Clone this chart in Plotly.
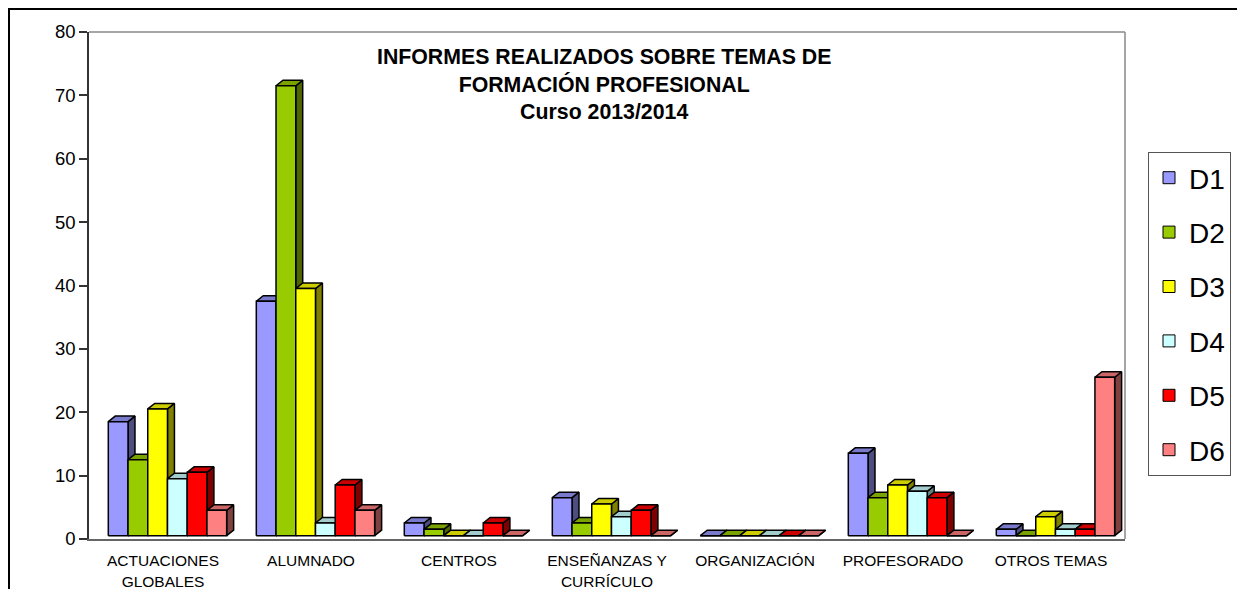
import plotly.graph_objects as go

categories = ["ACTUACIONES<br>GLOBALES", "ALUMNADO", "CENTROS", "ENSEÑANZAS Y<br>CURRÍCULO",
              "ORGANIZACIÓN", "PROFESORADO", "OTROS TEMAS"]
series_names = ["D1", "D2", "D3", "D4", "D5", "D6"]
D1 = [18, 37, 2, 6, 0, 13, 1]
D2 = [12, 71, 1, 2, 0, 6, 0]
D3 = [20, 39, 0, 5, 0, 8, 3]
D4 = [9, 2, 0, 3, 0, 7, 1]
D5 = [10, 8, 2, 4, 0, 6, 1]
D6 = [4, 4, 0, 0, 0, 0, 25]
series_values = [D1, D2, D3, D4, D5, D6]

front_colors = ["#9999FF", "#99CC00", "#FFFF00", "#CCFFFF", "#FF0000", "#FF8080"]
top_colors = ["#7A7ACC", "#7AA300", "#CCCC00", "#A3CCCC", "#CC0000", "#CC6666"]
side_colors = ["#4D4D80", "#4D6600", "#808000", "#668080", "#800000", "#804040"]

FONT = "Arial, Liberation Sans, sans-serif"

# 3D geometry (in axis units)
GROUP_OFFSET = 0.1304
BAR_W = 0.1333
DX = 0.047
DY = 0.87
FLOOR = 0.52

W, H = 1237, 581
ML, MR, MT, MB = 81, 120, 24, 50
PW = W - ML - MR
PH = H - MT - MB

fig = go.Figure()

def poly_trace(xs, ys, fill):
    return go.Scatter(x=xs, y=ys, mode="lines", fill="toself", fillcolor=fill,
                      line=dict(color="black", width=1.5), hoverinfo="skip",
                      showlegend=False)

# sides and tops, in series order
for i, vals in enumerate(series_values):
    sx, sy, tx, ty = [], [], [], []
    for c, v in enumerate(vals):
        L = c + GROUP_OFFSET + i * BAR_W
        R = L + BAR_W
        top = FLOOR + v
        sx += [R, R + DX, R + DX, R, R, None]
        sy += [FLOOR, FLOOR + DY, top + DY, top, FLOOR, None]
        tx += [L, R, R + DX, L + DX, L, None]
        ty += [top, top, top + DY, top + DY, top, None]
    fig.add_trace(poly_trace(sx, sy, side_colors[i]))
    fig.add_trace(poly_trace(tx, ty, top_colors[i]))

# front faces
for i, vals in enumerate(series_values):
    fx, fy = [], []
    for c, v in enumerate(vals):
        L = c + GROUP_OFFSET + i * BAR_W
        R = L + BAR_W
        top = FLOOR + v
        fx += [L, R, R, L, L, None]
        fy += [FLOOR, FLOOR, top, top, FLOOR, None]
    fig.add_trace(poly_trace(fx, fy, front_colors[i]))

# legend entries
for i, name in enumerate(series_names):
    fig.add_trace(go.Bar(x=[None], y=[None], name=name, legendgroup=name,
                         marker=dict(color=front_colors[i], line=dict(color="black", width=1))))

def px_x(x):
    return (x - ML) / PW

def px_y(y):
    return (H - MB - y) / PH

fig.update_layout(
    width=W, height=H,
    margin=dict(l=ML, r=MR, t=MT, b=MB),
    paper_bgcolor="white", plot_bgcolor="white",
    font=dict(family=FONT, color="black"),
    showlegend=True,
    legend=dict(x=px_x(1140), xanchor="left", y=px_y(144), yanchor="top",
                font=dict(size=28, family=FONT, color="black"),
                bordercolor="#555555", borderwidth=1, bgcolor="white",
                tracegroupgap=15),
    xaxis=dict(range=[0, 7], tickmode="array", tickvals=[c + 0.5 for c in range(len(categories))],
               ticktext=categories, ticks="outside", ticklen=7, tickcolor="rgba(0,0,0,0)",
               showline=True, linecolor="#666666", linewidth=1.5, showgrid=False, zeroline=False,
               tickfont=dict(size=15.5, family=FONT, color="black"), automargin=False),
    xaxis2=dict(range=[0, 7], overlaying="x", anchor="y", side="bottom", tickmode="array",
                tickvals=list(range(len(categories) + 1)), ticktext=[""] * (len(categories) + 1),
                ticks="outside", ticklen=8, tickcolor="#666666", tickwidth=1.5,
                showline=False, showgrid=False, zeroline=False, automargin=False),
    yaxis=dict(range=[0, 80], dtick=10, ticks="outside", ticklen=8, tickcolor="#333333",
               tickwidth=1.5, showline=True, linecolor="#333333", linewidth=1.5,
               showgrid=False, zeroline=False,
               tickfont=dict(size=18.5, family=FONT, color="black"), automargin=False),
    shapes=[
        dict(type="line", xref="paper", yref="paper", x0=0, x1=1, y0=1, y1=1,
             line=dict(color="#888888", width=1.5)),
        dict(type="line", xref="paper", yref="paper", x0=1, x1=1, y0=0, y1=1,
             line=dict(color="#888888", width=1.5)),
        dict(type="rect", xref="paper", yref="paper", x0=px_x(1), x1=px_x(1232),
             y0=px_y(620), y1=px_y(1),
             line=dict(color="black", width=2)),
    ],
    annotations=[
        dict(text="<b>INFORMES REALIZADOS SOBRE TEMAS DE<br>FORMACIÓN PROFESIONAL<br>Curso 2013/2014</b>",
             xref="paper", yref="paper", x=px_x(603.5 - 8), y=px_y(85 - 8),
             xanchor="center", yanchor="middle", showarrow=False,
             font=dict(size=21.3, family=FONT, color="black")),
    ],
)

fig.write_html("out.html")
